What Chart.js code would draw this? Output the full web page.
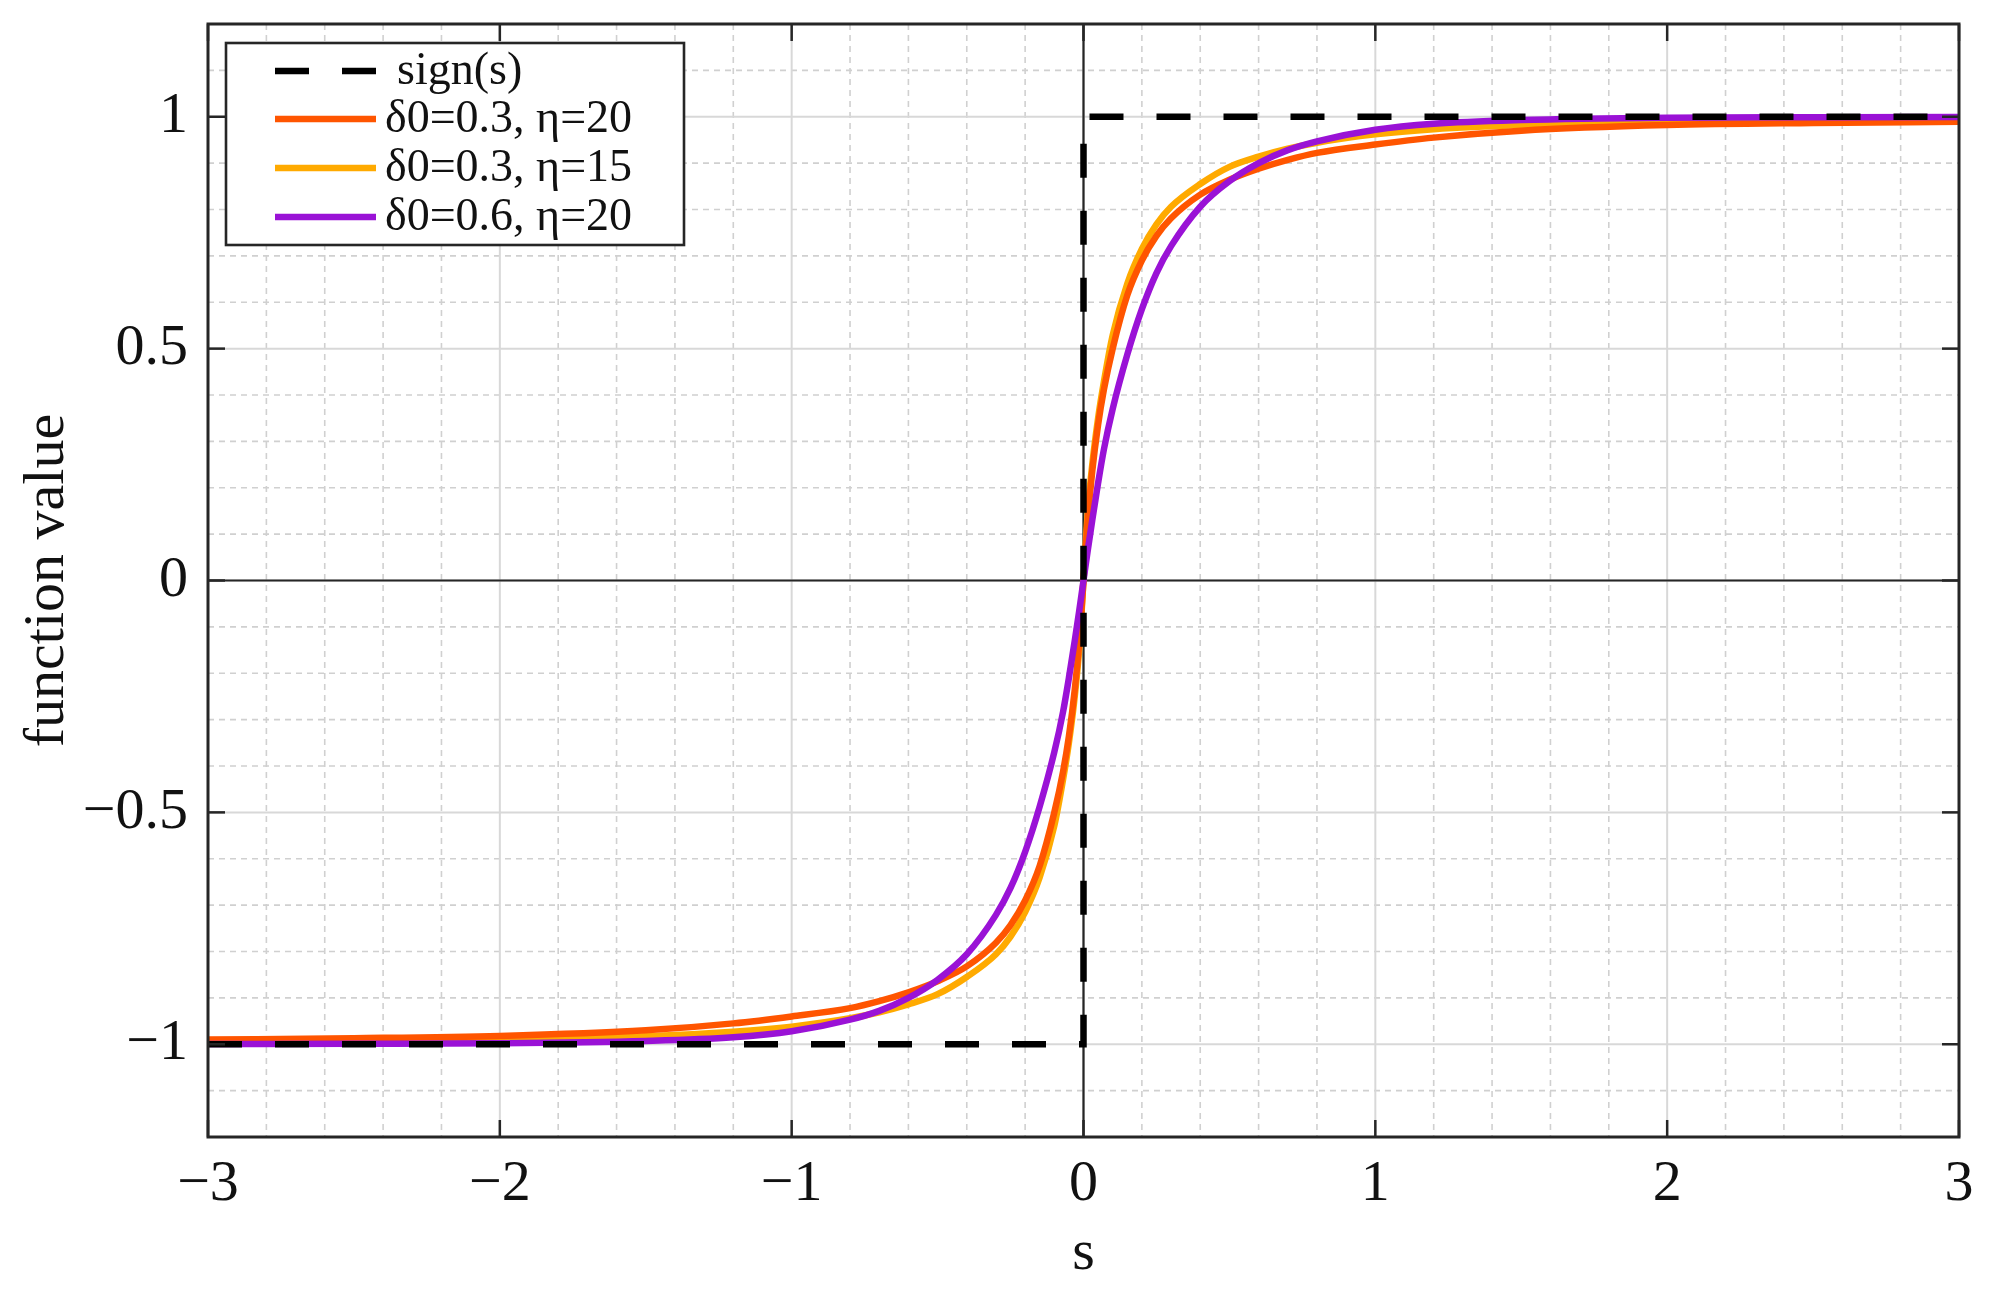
<!DOCTYPE html>
<html>
<head>
<meta charset="utf-8">
<script src="https://cdn.jsdelivr.net/npm/chart.js@4.4.0/dist/chart.umd.min.js"></script>
<style>
  html, body { margin: 0; padding: 0; background: #fff; }
  #wrap { width: 1990px; height: 1291px; }
</style>
</head>
<body>
<div id="wrap"><canvas id="sigChart" width="1990" height="1291"></canvas></div>
<script>
// sample points along s
const sVals = [-3, -2.5, -2, -1.5, -1.2, -1, -0.8, -0.7, -0.6, -0.5, -0.4, -0.3, -0.25, -0.2, -0.15, -0.1, -0.07, -0.05, -0.03, -0.015,
    0, 0.015, 0.03, 0.05, 0.07, 0.1, 0.15, 0.2, 0.25, 0.3, 0.4, 0.5, 0.6, 0.7, 0.8, 1, 1.2, 1.5, 2, 2.5, 3];

// δ0=0.3, η=20
const redVals = [-0.990, -0.987, -0.982, -0.970, -0.955, -0.940, -0.922, -0.907, -0.888, -0.864, -0.832, -0.781, -0.743, -0.690, -0.615, -0.50, -0.412, -0.336, -0.236, -0.136,
    0, 0.136, 0.236, 0.336, 0.412, 0.50, 0.615, 0.690, 0.743, 0.781, 0.832, 0.864, 0.888, 0.907, 0.922, 0.940, 0.955, 0.970, 0.982, 0.9865, 0.989];

// δ0=0.3, η=15
const yellowVals = [-0.994, -0.992, -0.989, -0.983, -0.973, -0.962, -0.944, -0.931, -0.914, -0.892, -0.855, -0.806, -0.768, -0.715, -0.640, -0.529, -0.429, -0.350, -0.250, -0.150,
    0, 0.150, 0.250, 0.350, 0.429, 0.529, 0.640, 0.715, 0.768, 0.806, 0.855, 0.892, 0.914, 0.931, 0.944, 0.962, 0.973, 0.982, 0.989, 0.9915, 0.993];

// δ0=0.6, η=20
const purpleVals = [-0.9995, -0.999, -0.998, -0.993, -0.985, -0.972, -0.947, -0.928, -0.900, -0.861, -0.806, -0.721, -0.663, -0.585, -0.487, -0.370, -0.283, -0.210, -0.130, -0.067,
    0, 0.067, 0.130, 0.210, 0.283, 0.370, 0.487, 0.585, 0.663, 0.721, 0.806, 0.861, 0.900, 0.928, 0.947, 0.972, 0.985, 0.993, 0.998, 0.999, 0.9995];

const signS = [-3, 0, 0, 3];
const signVals = [-1, -1, 1, 1];

const xTicks = [-3, -2, -1, 0, 1, 2, 3];
const yTicks = [-1, -0.5, 0, 0.5, 1];

const serif = "'Liberation Serif', 'Times New Roman', serif";
const axisColor = '#262626';

function pts(xs, ys) {
    return xs.map((x, i) => ({ x: x, y: ys[i] }));
}

function fmt(v) {
    return String(v).replace('-', '\u2212');
}

function line(ctx, x1, y1, x2, y2) {
    ctx.beginPath();
    ctx.moveTo(x1, y1);
    ctx.lineTo(x2, y2);
    ctx.stroke();
}

// matlab-like grid, box, inward ticks and boxed legend
const frame = {
    id: 'frame',
    beforeDatasetsDraw(chart) {
        const { ctx, chartArea: a, scales: { x, y } } = chart;
        ctx.save();
        ctx.lineWidth = 1.6;
        ctx.strokeStyle = '#d0d0d0';
        ctx.setLineDash([6, 5]);
        for (let i = -14; i <= 14; i++) {
            if (i % 5 === 0) continue;
            const px = x.getPixelForValue(i / 5);
            line(ctx, px, a.top, px, a.bottom);
        }
        for (let j = -11; j <= 11; j++) {
            if (j % 5 === 0) continue;
            const py = y.getPixelForValue(j / 10);
            line(ctx, a.left, py, a.right, py);
        }
        ctx.setLineDash([]);
        ctx.lineWidth = 2;
        ctx.strokeStyle = '#d8d8d8';
        xTicks.forEach(v => {
            const px = x.getPixelForValue(v);
            line(ctx, px, a.top, px, a.bottom);
        });
        yTicks.forEach(v => {
            const py = y.getPixelForValue(v);
            line(ctx, a.left, py, a.right, py);
        });
        // zero axes
        ctx.strokeStyle = axisColor;
        ctx.lineWidth = 2.2;
        const x0 = x.getPixelForValue(0);
        const y0 = y.getPixelForValue(0);
        line(ctx, x0, a.top, x0, a.bottom);
        line(ctx, a.left, y0, a.right, y0);
        ctx.restore();
    },
    afterDatasetsDraw(chart) {
        const { ctx, chartArea: a, scales: { x, y } } = chart;
        ctx.save();
        ctx.strokeStyle = axisColor;
        ctx.lineWidth = 2.5;
        const tl = 17;
        xTicks.forEach(v => {
            const px = x.getPixelForValue(v);
            line(ctx, px, a.bottom, px, a.bottom - tl);
            line(ctx, px, a.top, px, a.top + tl);
        });
        yTicks.forEach(v => {
            const py = y.getPixelForValue(v);
            line(ctx, a.left, py, a.left + tl, py);
            line(ctx, a.right, py, a.right - tl, py);
        });
        ctx.lineWidth = 3;
        ctx.strokeRect(a.left, a.top, a.right - a.left, a.bottom - a.top);

        // legend
        const bx = a.left + 18, by = a.top + 19, bw = 458, bh = 202;
        ctx.fillStyle = '#fff';
        ctx.fillRect(bx, by, bw, bh);
        ctx.lineWidth = 2.6;
        ctx.strokeStyle = axisColor;
        ctx.strokeRect(bx, by, bw, bh);
        const rows = [28, 76, 125, 174];
        ctx.font = '46px ' + serif;
        ctx.textBaseline = 'middle';
        ctx.textAlign = 'left';
        chart.data.datasets.forEach((ds, i) => {
            const ry = by + rows[i];
            ctx.strokeStyle = ds.borderColor;
            ctx.lineWidth = ds.borderWidth;
            ctx.setLineDash(ds.borderDash || []);
            line(ctx, bx + 49, ry, bx + 150, ry);
            ctx.setLineDash([]);
            ctx.fillStyle = '#111';
            ctx.fillText(ds.label, bx + (i === 0 ? 171 : 159), ry + 1);
        });
        ctx.restore();
    }
};

const curve = {
    pointRadius: 0,
    borderWidth: 6.5,
    cubicInterpolationMode: 'monotone',
    fill: false
};

const ctx = document.getElementById('sigChart').getContext('2d');

let sigChart = new Chart(ctx, {
    type: 'line',
    data: {
        datasets: [{
            label: 'sign(s)',
            data: pts(signS, signVals),
            borderColor: '#000000',
            borderWidth: 6.5,
            borderDash: [34, 33],
            pointRadius: 0,
            tension: 0,
            order: 0
        }, Object.assign({
            label: 'δ0=0.3, η=20',
            data: pts(sVals, redVals),
            borderColor: '#FF5500',
            order: 2
        }, curve), Object.assign({
            label: 'δ0=0.3, η=15',
            data: pts(sVals, yellowVals),
            borderColor: '#FFAA00',
            order: 3
        }, curve), Object.assign({
            label: 'δ0=0.6, η=20',
            data: pts(sVals, purpleVals),
            borderColor: '#9A12D6',
            order: 1
        }, curve)]
    },
    options: {
        responsive: false,
        animation: false,
        devicePixelRatio: 1,
        layout: {
            padding: { top: 24, right: 31, bottom: 0, left: 0 }
        },
        plugins: {
            legend: { display: false },
            tooltip: { enabled: false }
        },
        scales: {
            x: {
                type: 'linear',
                min: -3,
                max: 3,
                afterFit: s => {
                    s.height = 154;
                    s.paddingLeft = 0;
                    s.paddingRight = 0;
                },
                afterBuildTicks: s => { s.ticks = xTicks.map(v => ({ value: v })); },
                grid: { display: false, drawTicks: false },
                border: { display: false },
                ticks: {
                    font: { family: serif, size: 58 },
                    color: '#111',
                    padding: 13,
                    maxRotation: 0,
                    autoSkip: false,
                    callback: v => fmt(v)
                },
                title: {
                    display: true,
                    text: 's',
                    color: '#111',
                    font: { family: serif, size: 58, lineHeight: 1.2 },
                    padding: { top: 0, bottom: 2 }
                }
            },
            y: {
                type: 'linear',
                min: -1.2,
                max: 1.2,
                afterFit: s => {
                    s.width = 208;
                    s.paddingTop = 0;
                    s.paddingBottom = 0;
                },
                afterBuildTicks: s => { s.ticks = yTicks.map(v => ({ value: v })); },
                grid: { display: false, drawTicks: false },
                border: { display: false },
                ticks: {
                    font: { family: serif, size: 58 },
                    color: '#111',
                    padding: 20,
                    autoSkip: false,
                    callback: v => fmt(v)
                },
                title: {
                    display: true,
                    text: 'function value',
                    color: '#111',
                    font: { family: serif, size: 58, lineHeight: 1.2 },
                    padding: { top: 13, bottom: 0 }
                }
            }
        }
    },
    plugins: [frame]
});
</script>
</body>
</html>
